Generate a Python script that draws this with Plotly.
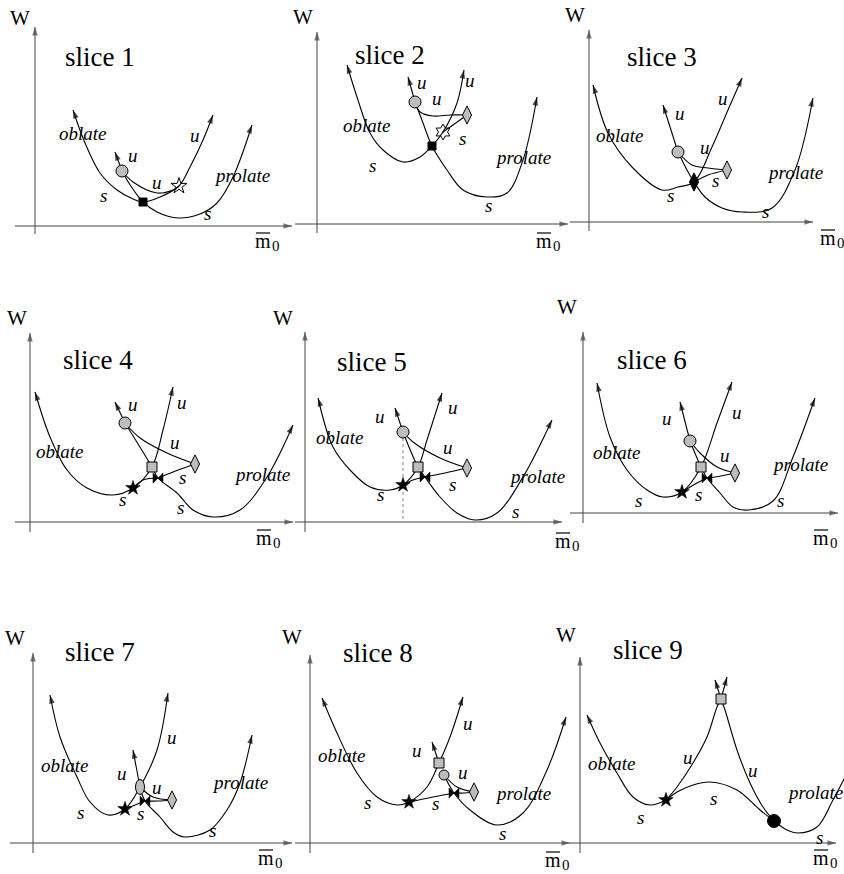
import math
import plotly.graph_objects as go

FIG_W, FIG_H = 844, 874

SLICE_TITLES = ["slice 1", "slice 2", "slice 3", "slice 4", "slice 5",
                "slice 6", "slice 7", "slice 8", "slice 9"]
Y_LABEL = "W"
X_LABEL_MAIN = "m"
X_LABEL_SUB = "0"

# ---- schematic data: curves (control points in local W / m0 units), arrow ends ----
S1_CURVES = [
    ([(38, 116), (50, 83), (65, 53), (82, 36), (98, 27), (108, 24), (125, 29), (144, 40), (155, 59), (168, 86), (178, 111)], "both"),
    ([(87, 55), (92, 46), (100, 34), (108, 24), (122, 14), (143, 8), (165, 12), (182, 23), (198, 49), (217, 101)], "end"),
    ([(87, 55), (98, 44), (122, 33), (138, 36), (144, 40)], ""),
    ([(87, 55), (80, 74)], "end"),
]
S1_MARKERS = [("gray_circle", 87, 55), ("black_square", 108, 24), ("open_star", 144, 40)]
S1_LABELS = [("oblate", 48, 93), ("prolate", 207, 51), ("s", 68, 31), ("s", 172, 13),
             ("u", 160, 91), ("u", 122, 44), ("u", 98, 71)]

S2_CURVES = [
    ([(30, 159), (40, 127), (53, 91), (66, 74), (86, 62), (103, 67), (115, 78), (126, 92), (140, 121), (147, 154)], "both"),
    ([(98, 122), (106, 101), (115, 78), (130, 54), (146, 34), (170, 27), (190, 31), (206, 64), (220, 127)], "end"),
    ([(98, 122), (91, 147)], "end"),
    ([(98, 122), (103, 112), (116, 108), (133, 109), (150, 109)], ""),
    ([(150, 109), (136, 99), (126, 92)], ""),
]
S2_MARKERS = [("gray_circle", 98, 122), ("gray_diamond", 150, 109),
              ("open_hexagram", 126, 92), ("black_square", 115, 78)]
S2_LABELS = [("oblate", 50, 99), ("prolate", 206, 67), ("s", 55, 59), ("s", 171, 19),
             ("s", 145, 86), ("u", 153, 144), ("u", 105, 142), ("u", 120, 126)]

S3_CURVES = [
    ([(4, 137), (19, 89), (43, 55), (73, 32), (89, 35), (105, 40), (123, 75), (139, 112), (153, 144)], "both"),
    ([(89, 70), (98, 52), (105, 40), (116, 25), (133, 14), (153, 10), (183, 14), (206, 52), (224, 124)], "end"),
    ([(89, 70), (74, 117)], "end"),
    ([(89, 70), (103, 57), (119, 54), (138, 52)], ""),
    ([(138, 52), (119, 47), (105, 40)], ""),
]
S3_MARKERS = [("gray_circle", 89, 70), ("gray_diamond", 138, 52), ("black_diamond", 105, 40)]
S3_LABELS = [("oblate", 31, 87), ("prolate", 206, 50), ("s", 81, 27), ("s", 176, 11),
             ("s", 126, 42), ("u", 134, 124), ("u", 91, 109), ("u", 116, 75)]

S4_CURVES = [
    ([(5, 130), (20, 85), (37, 52), (57, 34), (83, 27), (103, 34), (122, 55), (133, 92), (143, 135)], "both"),
    ([(95, 99), (122, 55), (128, 44), (147, 29), (163, 12), (183, 5), (210, 12), (237, 45), (263, 97)], "end"),
    ([(95, 99), (85, 120)], "end"),
    ([(95, 99), (110, 84), (137, 69), (165, 58)], ""),
    ([(165, 58), (143, 50), (128, 44)], ""),
    ([(103, 34), (113, 42), (128, 44)], ""),
]
S4_MARKERS = [("gray_circle", 95, 99), ("gray_square", 122, 55), ("gray_diamond", 165, 58),
              ("black_star", 103, 34), ("bowtie", 128, 44)]
S4_LABELS = [("oblate", 30, 70), ("prolate", 232, 47), ("s", 92, 22), ("s", 150, 14),
             ("s", 152, 44), ("u", 152, 119), ("u", 103, 117), ("u", 145, 79)]

S5_CURVES = [
    ([(13, 124), (28, 75), (45, 52), (65, 35), (85, 32), (98, 37), (113, 55), (122, 82), (137, 129)], "both"),
    ([(98, 90), (113, 55), (120, 45), (135, 25), (152, 9), (170, 2), (192, 9), (218, 45), (247, 102)], "end"),
    ([(98, 90), (90, 114)], "end"),
    ([(98, 90), (108, 80), (135, 64), (162, 54)], ""),
    ([(162, 54), (140, 49), (120, 45)], ""),
    ([(98, 37), (108, 42), (120, 45)], ""),
]
S5_GUIDE = [(98, 90), (98, 0)]
S5_MARKERS = [("gray_circle", 98, 90), ("gray_square", 113, 55), ("gray_diamond", 162, 54),
              ("black_star", 98, 37), ("bowtie", 120, 45)]
S5_LABELS = [("oblate", 35, 84), ("prolate", 232, 45), ("s", 75, 27), ("s", 210, 10),
             ("s", 147, 37), ("u", 148, 114), ("u", 75, 105), ("u", 143, 74)]

S6_CURVES = [
    ([(14, 130), (27, 76), (44, 43), (64, 23), (80, 16), (99, 21), (118, 46), (134, 90), (149, 131)], "both"),
    ([(107, 72), (118, 46), (124, 35), (137, 20), (150, 6), (165, 3), (190, 12), (210, 56), (232, 115)], "end"),
    ([(107, 72), (97, 111)], "end"),
    ([(107, 72), (117, 60), (134, 46), (152, 40)], ""),
    ([(152, 40), (138, 37), (124, 35)], ""),
    ([(99, 21), (114, 30), (124, 35)], ""),
]
S6_MARKERS = [("gray_circle", 107, 72), ("gray_square", 118, 46), ("gray_diamond", 152, 40),
              ("black_star", 99, 21), ("bowtie", 124, 35)]
S6_LABELS = [("oblate", 34, 61), ("prolate", 217, 49), ("s", 55, 13), ("s", 197, 13),
             ("s", 115, 19), ("u", 154, 101), ("u", 84, 95), ("u", 142, 58)]

S7_CURVES = [
    ([(17, 148), (27, 106), (44, 66), (57, 41), (75, 28), (92, 34), (107, 56), (124, 93), (135, 150)], "both"),
    ([(107, 56), (112, 42), (127, 26), (140, 11), (152, 6), (177, 13), (194, 33), (207, 60), (219, 108)], "end"),
    ([(107, 56), (100, 93)], "end"),
    ([(107, 56), (120, 46), (139, 43)], ""),
    ([(139, 43), (125, 42), (112, 42)], ""),
    ([(92, 34), (102, 38), (112, 42)], ""),
]
S7_ELLIPSE = [(107, 56)]
S7_MARKERS = [("gray_diamond", 139, 43), ("black_star", 92, 34), ("bowtie", 112, 42)]
S7_LABELS = [("oblate", 32, 78), ("prolate", 207, 61), ("s", 47, 31), ("s", 179, 13),
             ("s", 107, 30), ("u", 139, 106), ("u", 89, 70), ("u", 124, 56)]

S8_CURVES = [
    ([(12, 145), (27, 110), (47, 70), (67, 46), (87, 38), (99, 41), (117, 56), (129, 80), (140, 106), (153, 146)], "both"),
    ([(134, 68), (144, 50), (160, 33), (187, 18), (213, 30), (237, 73), (256, 126)], "end"),
    ([(129, 80), (122, 101)], "end"),
    ([(134, 68), (147, 56), (164, 51)], ""),
    ([(164, 51), (154, 50), (144, 50)], ""),
    ([(99, 41), (123, 46), (144, 50)], ""),
]
S8_MARKERS = [("gray_square", 129, 80), ("gray_circle_small", 134, 68), ("gray_diamond", 164, 51),
              ("black_star", 99, 41), ("bowtie", 144, 50)]
S8_LABELS = [("oblate", 32, 88), ("prolate", 213, 50), ("s", 57, 41), ("s", 192, 10),
             ("s", 125, 40), ("u", 158, 120), ("u", 107, 93), ("u", 153, 71)]

S9_CURVES = [
    ([(7, 128), (20, 100), (37, 70), (53, 46), (70, 38), (86, 43)], "start"),
    ([(86, 43), (97, 56), (113, 80), (127, 106), (137, 136), (141, 144)], ""),
    ([(141, 144), (145, 133), (157, 93), (170, 60), (183, 36), (194, 22)], ""),
    ([(86, 43), (97, 51), (113, 58), (130, 61), (157, 53), (180, 33), (194, 22)], ""),
    ([(194, 22), (207, 13), (218, 10), (237, 16), (253, 43), (265, 66)], ""),
    ([(141, 144), (135, 163)], "end"),
    ([(141, 144), (147, 166)], "end"),
]
S9_MARKERS = [("black_star", 86, 43), ("gray_square", 141, 144), ("black_circle", 194, 22)]
S9_LABELS = [("oblate", 32, 80), ("prolate", 235, 51), ("s", 60, 26), ("s", 133, 45),
             ("s", 239, 6), ("u", 108, 86), ("u", 173, 73)]

SLICE_CURVES = [S1_CURVES, S2_CURVES, S3_CURVES, S4_CURVES, S5_CURVES,
                S6_CURVES, S7_CURVES, S8_CURVES, S9_CURVES]
SLICE_MARKERS = [S1_MARKERS, S2_MARKERS, S3_MARKERS, S4_MARKERS, S5_MARKERS,
                 S6_MARKERS, S7_MARKERS, S8_MARKERS, S9_MARKERS]
SLICE_LABELS = [S1_LABELS, S2_LABELS, S3_LABELS, S4_LABELS, S5_LABELS,
                S6_LABELS, S7_LABELS, S8_LABELS, S9_LABELS]

# ---- layout (page pixel placement of each panel) ----
PANEL_ORIGINS = [(35, 226), (317, 224), (589, 222), (30, 522), (305, 522), (583, 513),
                 (33, 843), (310, 843), (580, 843)]
X_AXIS_SPAN = [(-20, 257), (-22, 251), (-19, 224), (-15, 263), (-10, 257), (-13, 255),
               (-23, 259), (-15, 260), (-10, 256)]
Y_AXIS_SPAN = [(-8, 199), (-9, 192), (-9, 192), (-10, 189), (-10, 190), (-10, 181),
               (-10, 190), (-10, 188), (-10, 186)]
TITLE_POS = [(65, 169), (73, 169), (73, 165), (68, 162), (67, 160), (69, 153),
             (67, 191), (68, 190), (68, 193)]
W_POS = [(-15, 208), (-14, 207), (-14, 207), (-13, 204), (-22, 204), (-16, 206),
         (-18, 205), (-18, 206), (-14, 208)]
M_POS = [(228, -15), (227, -17), (239, -16), (234, -16), (258, -19), (238, -25),
         (233, -15), (243, -17), (241, -15)]

GRAY = "#bdbdbd"
MARKER_STYLES = {
    "gray_circle": dict(symbol="circle", size=12, color=GRAY, line=dict(color="black", width=1)),
    "gray_circle_small": dict(symbol="circle", size=10, color=GRAY, line=dict(color="black", width=1)),
    "black_square": dict(symbol="square", size=8, color="black", line=dict(color="black", width=1)),
    "gray_square": dict(symbol="square", size=10, color=GRAY, line=dict(color="black", width=1)),
    "open_star": dict(symbol="star-open", size=12, color="black", line=dict(color="black", width=1)),
    "open_hexagram": dict(symbol="hexagram-open-dot", size=12, color="black", line=dict(color="black", width=1)),
    "black_star": dict(symbol="star", size=11, color="black", line=dict(color="black", width=0.5)),
    "gray_diamond": dict(symbol="diamond-tall", size=13, color=GRAY, line=dict(color="black", width=1)),
    "black_diamond": dict(symbol="diamond-tall", size=13, color="black", line=dict(color="black", width=1)),
    "bowtie": dict(symbol="bowtie", size=10, color="black", line=dict(color="black", width=0.5)),
    "black_circle": dict(symbol="circle", size=13, color="black", line=dict(color="black", width=1)),
}

SERIF = "Liberation Serif"

fig = go.Figure()
annotations = []
shapes = []
layout_axes = {}


def add_arrowhead(tip, prev, xr, yr, color="black", size=9):
    dx, dy = tip[0] - prev[0], tip[1] - prev[1]
    n = math.hypot(dx, dy) or 1.0
    back = (tip[0] - dx / n * 3, tip[1] - dy / n * 3)
    fig.add_trace(go.Scatter(x=[back[0], tip[0]], y=[back[1], tip[1]], mode="markers",
                             marker=dict(symbol="arrow", size=[0, size], angleref="previous",
                                         color=color, line=dict(width=0)),
                             xaxis=xr, yaxis=yr, hoverinfo="skip", cliponaxis=False))


for i in range(9):
    k = i + 1
    suf = "" if k == 1 else str(k)
    xr, yr = "x" + suf, "y" + suf
    ox, oy = PANEL_ORIGINS[i]
    L = max(0, ox - 40)
    R = min(FIG_W, ox + 300)
    T = max(0, oy - 232)
    B = min(FIG_H, oy + 35)
    layout_axes["xaxis" + suf] = dict(domain=[L / FIG_W, R / FIG_W], range=[L - ox, R - ox],
                                      visible=False, fixedrange=True, anchor=yr)
    layout_axes["yaxis" + suf] = dict(domain=[1 - B / FIG_H, 1 - T / FIG_H], range=[oy - B, oy - T],
                                      visible=False, fixedrange=True, anchor=xr)

    # coordinate axes with arrow heads
    xl, xrt = X_AXIS_SPAN[i]
    yb, yt = Y_AXIS_SPAN[i]
    fig.add_trace(go.Scatter(x=[xl, xrt], y=[0, 0], mode="lines", line=dict(color="#444", width=1),
                             xaxis=xr, yaxis=yr, hoverinfo="skip"))
    fig.add_trace(go.Scatter(x=[0, 0], y=[yb, yt], mode="lines", line=dict(color="#444", width=1),
                             xaxis=xr, yaxis=yr, hoverinfo="skip"))
    add_arrowhead((xrt, 0), (xl, 0), xr, yr, color="#444")
    add_arrowhead((0, yt), (0, yb), xr, yr, color="#444")

    if k == 5:
        fig.add_trace(go.Scatter(x=[p[0] for p in S5_GUIDE], y=[p[1] for p in S5_GUIDE],
                                 mode="lines", line=dict(color="#888", width=1, dash="dot"),
                                 xaxis=xr, yaxis=yr, hoverinfo="skip"))

    for pts, arrows in SLICE_CURVES[i]:
        fig.add_trace(go.Scatter(x=[p[0] for p in pts], y=[p[1] for p in pts], mode="lines",
                                 line=dict(color="black", width=1.1, shape="spline", smoothing=1.0),
                                 xaxis=xr, yaxis=yr, hoverinfo="skip"))
        if arrows in ("end", "both"):
            add_arrowhead(pts[-1], pts[-2], xr, yr)
        if arrows in ("start", "both"):
            add_arrowhead(pts[0], pts[1], xr, yr)

    if k == 7:
        for cx, cy in S7_ELLIPSE:
            shapes.append(dict(type="circle", xref=xr, yref=yr, x0=cx - 4.5, x1=cx + 4.5,
                               y0=cy - 7.5, y1=cy + 7.5, fillcolor=GRAY,
                               line=dict(color="black", width=1), layer="above"))

    for kind, mx, my in SLICE_MARKERS[i]:
        fig.add_trace(go.Scatter(x=[mx], y=[my], mode="markers", marker=MARKER_STYLES[kind],
                                 xaxis=xr, yaxis=yr, hoverinfo="skip"))

    for txt, lx, ly in SLICE_LABELS[i]:
        annotations.append(dict(x=lx, y=ly, xref=xr, yref=yr, text="<i>" + txt + "</i>",
                                showarrow=False, font=dict(family=SERIF, size=19, color="black")))

    tx, ty = TITLE_POS[i]
    annotations.append(dict(x=tx, y=ty, xref=xr, yref=yr, text=SLICE_TITLES[i], showarrow=False,
                            font=dict(family=SERIF, size=27, color="black")))
    wx, wy = W_POS[i]
    annotations.append(dict(x=wx, y=wy, xref=xr, yref=yr, text=Y_LABEL, showarrow=False,
                            font=dict(family=SERIF, size=21, color="black")))
    # x-axis label: m with overbar and subscript 0
    mxp, myp = M_POS[i]
    annotations.append(dict(x=mxp, y=myp, xref=xr, yref=yr, text=X_LABEL_MAIN, showarrow=False,
                            font=dict(family=SERIF, size=20, color="black")))
    annotations.append(dict(x=mxp + 13, y=myp - 5, xref=xr, yref=yr, text=X_LABEL_SUB,
                            showarrow=False, font=dict(family=SERIF, size=15, color="black")))
    shapes.append(dict(type="line", xref=xr, yref=yr, x0=mxp - 7, x1=mxp + 7,
                       y0=myp + 8, y1=myp + 8, line=dict(color="black", width=1.2)))

fig.update_layout(width=FIG_W, height=FIG_H, margin=dict(l=0, r=0, t=0, b=0),
                  paper_bgcolor="white", plot_bgcolor="rgba(0,0,0,0)", showlegend=False,
                  annotations=annotations, shapes=shapes, **layout_axes)

fig.write_html("out.html")
